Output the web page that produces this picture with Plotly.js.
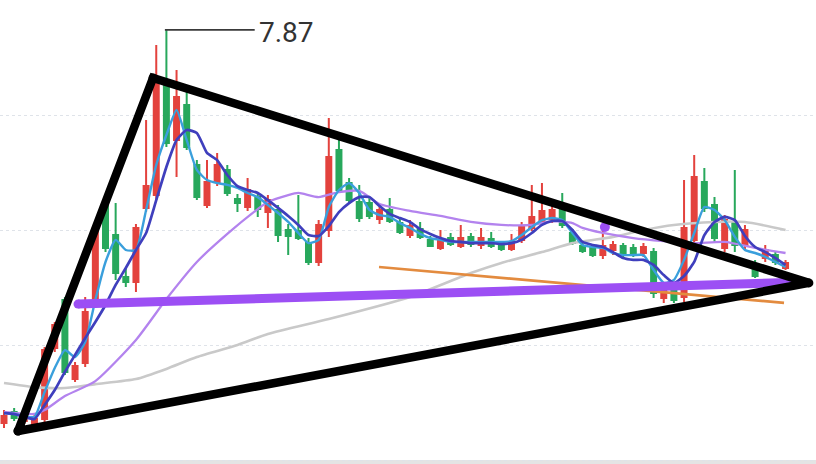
<!DOCTYPE html>
<html>
<head>
<meta charset="utf-8">
<script src="https://cdn.plot.ly/plotly-3.0.1.min.js"></script>
<style>
  html, body { margin: 0; padding: 0; background: #ffffff; }
  #chart { width: 816px; height: 464px; }
</style>
</head>
<body>
<div id="chart"></div>
<script>
// Daily OHLC prices
const open  = [6.161, 6.209, 6.170, 6.157, 6.178, 6.487, 6.696, 6.352, 6.422, 6.674,
               7.109, 6.978, 6.796, 6.774, 7.096, 7.152, 7.639, 7.391, 7.543, 7.283,
               7.109, 7.209, 7.261, 7.135, 7.100, 7.143, 7.078, 7.087, 7.000, 6.996,
               6.943, 6.861, 7.000, 7.348, 7.204, 7.122, 7.117, 7.048, 7.087, 7.030,
               6.978, 7.004, 6.957, 6.922, 6.965, 6.930, 6.970, 6.935, 6.961, 6.939,
               6.917, 6.957, 7.009, 7.035, 7.048, 7.096, 6.987, 6.930, 6.922, 6.891,
               6.913, 6.930, 6.922, 6.900, 6.904, 6.704, 6.752, 6.709, 6.957, 7.209,
               7.109, 6.922, 7.035, 6.935, 6.843, 6.878, 6.891, 6.835];
const high  = [6.217, 6.226, 6.213, 6.196, 6.491, 6.600, 6.709, 6.426, 6.709, 7.035,
               7.130, 7.117, 6.835, 7.026, 7.478, 7.804, 7.870, 7.696, 7.600, 7.304,
               7.304, 7.335, 7.283, 7.157, 7.226, 7.165, 7.152, 7.109, 7.026, 7.152,
               6.965, 7.043, 7.487, 7.391, 7.226, 7.196, 7.143, 7.109, 7.139, 7.048,
               7.043, 7.035, 6.974, 7.000, 6.987, 7.022, 6.987, 7.009, 6.991, 6.952,
               6.983, 7.035, 7.196, 7.204, 7.117, 7.161, 7.004, 6.943, 6.935, 7.013,
               6.952, 6.943, 6.939, 6.943, 6.922, 6.752, 6.770, 7.217, 7.326, 7.270,
               7.143, 7.065, 7.261, 7.022, 6.870, 6.935, 6.904, 6.870];
const low   = [6.139, 6.170, 6.157, 6.143, 6.165, 6.470, 6.370, 6.339, 6.404, 6.661,
               6.904, 6.783, 6.752, 6.730, 7.078, 7.130, 7.361, 7.230, 7.348, 7.130,
               7.096, 7.191, 7.148, 7.078, 7.083, 7.057, 7.009, 6.948, 6.891, 6.957,
               6.848, 6.843, 6.970, 7.161, 7.117, 7.035, 7.048, 7.026, 7.030, 6.983,
               6.965, 6.961, 6.926, 6.913, 6.930, 6.922, 6.926, 6.917, 6.922, 6.909,
               6.909, 6.943, 6.996, 7.022, 7.030, 7.009, 6.935, 6.900, 6.883, 6.874,
               6.891, 6.878, 6.883, 6.883, 6.704, 6.683, 6.683, 6.687, 6.935, 7.078,
               6.948, 6.904, 6.904, 6.913, 6.791, 6.861, 6.848, 6.826];
const close = [6.191, 6.183, 6.196, 6.178, 6.478, 6.587, 6.383, 6.409, 6.643, 7.009,
               6.922, 6.813, 6.774, 7.009, 7.191, 7.652, 7.378, 7.578, 7.361, 7.143,
               7.209, 7.283, 7.161, 7.117, 7.174, 7.091, 7.130, 6.978, 6.974, 6.965,
               6.861, 7.022, 7.317, 7.174, 7.130, 7.052, 7.061, 7.087, 7.039, 6.991,
               7.017, 6.970, 6.930, 6.952, 6.939, 6.965, 6.939, 6.965, 6.930, 6.917,
               6.948, 7.013, 7.057, 7.083, 7.087, 7.022, 6.943, 6.909, 6.891, 6.930,
               6.935, 6.891, 6.891, 6.926, 6.726, 6.735, 6.696, 7.009, 7.230, 7.096,
               6.965, 7.043, 6.935, 7.000, 6.800, 6.913, 6.861, 6.857];

// Moving averages, one value per session
const ma5  = [6.204, 6.200, 6.191, 6.187, 6.296, 6.400, 6.478, 6.448, 6.513, 6.696,
              6.861, 6.957, 6.913, 6.913, 7.087, 7.283, 7.413, 7.522, 7.391, 7.261,
              7.217, 7.204, 7.196, 7.183, 7.161, 7.143, 7.109, 7.074, 7.035, 6.987,
              6.943, 6.957, 7.100, 7.174, 7.204, 7.161, 7.087, 7.065, 7.057, 7.030,
              7.009, 6.983, 6.965, 6.957, 6.948, 6.948, 6.948, 6.948, 6.948, 6.948,
              6.952, 6.978, 7.013, 7.043, 7.052, 7.043, 6.987, 6.935, 6.926, 6.922,
              6.900, 6.891, 6.891, 6.891, 6.826, 6.770, 6.783, 6.870, 6.987, 7.100,
              7.087, 7.043, 6.970, 6.913, 6.900, 6.883, 6.861, 6.839];
const ma10 = [6.204, 6.200, 6.187, 6.178, 6.239, 6.304, 6.383, 6.457, 6.530, 6.600,
              6.674, 6.761, 6.835, 6.913, 6.987, 7.130, 7.274, 7.391, 7.435, 7.422,
              7.335, 7.304, 7.239, 7.191, 7.174, 7.161, 7.130, 7.096, 7.061, 7.022,
              6.978, 6.974, 7.017, 7.078, 7.117, 7.143, 7.143, 7.104, 7.070, 7.052,
              7.035, 7.004, 6.983, 6.965, 6.952, 6.948, 6.943, 6.943, 6.943, 6.939,
              6.943, 6.957, 6.987, 7.022, 7.039, 7.039, 7.000, 6.948, 6.935, 6.926,
              6.904, 6.878, 6.870, 6.870, 6.848, 6.804, 6.770, 6.800, 6.861, 6.978,
              7.035, 7.057, 7.043, 6.974, 6.926, 6.904, 6.878, 6.848];

// Slower averages, read at selected sessions
const ma20Day = [0, 3, 4, 6, 9, 13, 16, 19, 22, 25, 26, 28, 29, 31, 33, 35,
                 37, 40, 43, 46, 49, 52, 54, 56, 57, 59, 62, 65, 68, 71, 74, 77];
const ma20    = [6.209, 6.200, 6.217, 6.278, 6.343, 6.522, 6.700, 6.861, 6.983, 7.091,
                 7.122, 7.152, 7.161, 7.143, 7.165, 7.170, 7.113, 7.083, 7.061, 7.035,
                 7.022, 7.022, 7.039, 7.030, 7.009, 6.987, 6.965, 6.952, 6.943, 6.948,
                 6.922, 6.900];
const ma60Day = [0, 3, 6, 9, 13, 16, 19, 23, 26, 32, 40, 46, 49, 53, 56, 60,
                 63, 66, 70, 73, 77];
const ma60    = [6.335, 6.317, 6.313, 6.330, 6.352, 6.396, 6.448, 6.500, 6.548, 6.613,
                 6.709, 6.813, 6.857, 6.904, 6.943, 6.970, 7.000, 7.022, 7.035, 7.035,
                 7.000];

// Hand-drawn pattern lines: [session, price] anchors
const triangle   = [[1.38, 6.126], [14.68, 7.661], [79.3, 6.770], [1.38, 6.126]];
const supportPts = [[7.29, 6.678], [78.6, 6.774]];
const trendPts   = [[36.95, 6.839], [76.85, 6.683]];
const markPt     = [59.2, 7.013];

// Session index of the labelled peak and where its leader line ends
const peakIdx = 16;
const leaderEnd = 24.7;

const days = open.map((_, i) => i);
const peak = high[peakIdx];

const RED = '#e3423d', GREEN = '#28a85c';
const PURPLE = '#9c4ff4';

const traces = [
  { type: 'scatter', mode: 'lines', x: ma60Day, y: ma60, hoverinfo: 'skip',
    line: { color: '#c9c9c9', width: 2.6, shape: 'spline', smoothing: 0.6 } },
  { type: 'candlestick', x: days, open: open, high: high, low: low, close: close,
    whiskerwidth: 0, hoverinfo: 'skip',
    increasing: { line: { color: RED, width: 2 }, fillcolor: RED },
    decreasing: { line: { color: GREEN, width: 2 }, fillcolor: GREEN } },
  { type: 'scatter', mode: 'lines', x: ma20Day, y: ma20, hoverinfo: 'skip',
    line: { color: '#b383ee', width: 2.3, shape: 'spline', smoothing: 0.6 } },
  { type: 'scatter', mode: 'lines', x: days, y: ma5, hoverinfo: 'skip',
    line: { color: '#3a9fdc', width: 2.4, shape: 'spline', smoothing: 0.5 } },
  { type: 'scatter', mode: 'lines', x: days, y: ma10, hoverinfo: 'skip',
    line: { color: '#3f3fbd', width: 2.7, shape: 'spline', smoothing: 0.5 } },
  // leader for the peak label
  { type: 'scatter', mode: 'lines', x: [peakIdx - 0.15, leaderEnd], y: [peak, peak],
    hoverinfo: 'skip', line: { color: '#3a3a3a', width: 1.8 } },
  // orange trend line
  { type: 'scatter', mode: 'lines', x: trendPts.map(p => p[0]), y: trendPts.map(p => p[1]),
    hoverinfo: 'skip', line: { color: '#e38b3f', width: 2.7 } },
  // purple support line with rounded ends
  { type: 'scatter', mode: 'lines+markers', x: supportPts.map(p => p[0]), y: supportPts.map(p => p[1]),
    hoverinfo: 'skip', line: { color: PURPLE, width: 9 },
    marker: { color: PURPLE, size: 9 } },
  { type: 'scatter', mode: 'markers', x: [markPt[0]], y: [markPt[1]], hoverinfo: 'skip',
    marker: { color: PURPLE, size: 10 } },
  // black triangle
  { type: 'scatter', mode: 'lines+markers', x: triangle.map(p => p[0]), y: triangle.map(p => p[1]),
    hoverinfo: 'skip', line: { color: '#000000', width: 8.5 },
    marker: { color: '#000000', size: 9 } }
];

const layout = {
  width: 816, height: 464,
  margin: { l: 0, r: 0, t: 0, b: 0, pad: 0 },
  paper_bgcolor: '#ffffff', plot_bgcolor: '#ffffff',
  showlegend: false,
  boxgap: 0.3,
  xaxis: { range: [-0.394, 80.0], showgrid: false, zeroline: false, showline: false,
           showticklabels: false, ticks: '', rangeslider: { visible: false }, fixedrange: true },
  yaxis: { range: [5.9826, 8.0], tick0: 0, dtick: 0.5, showgrid: true,
           gridcolor: '#dfe3e9', gridwidth: 1, griddash: 'dot',
           zeroline: false, showline: false, showticklabels: false, ticks: '', fixedrange: true },
  shapes: [
    { type: 'rect', xref: 'paper', yref: 'y', x0: 0, x1: 1, y0: 5.9826, y1: 6.0,
      fillcolor: '#e4e4e4', line: { width: 0 }, layer: 'below' }
  ],
  annotations: [
    { x: leaderEnd, y: peak, xref: 'x', yref: 'y', text: peak.toFixed(2),
      showarrow: false, xanchor: 'left', yanchor: 'middle', xshift: 2, yshift: -3,
      font: { family: 'Roboto, "Noto Sans", sans-serif', size: 28, color: '#333333' } }
  ]
};

Plotly.newPlot('chart', traces, layout, { staticPlot: true, displayModeBar: false });
</script>
</body>
</html>
